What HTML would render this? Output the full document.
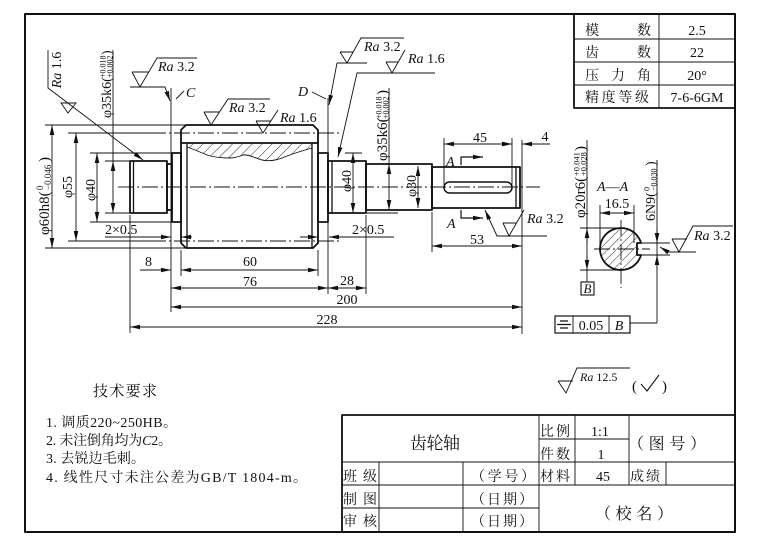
<!DOCTYPE html>
<html><head><meta charset="utf-8">
<style>
html,body{margin:0;padding:0;background:#fff;}
svg{display:block;}
text{font-family:"Liberation Serif","Noto Serif CJK SC",serif;fill:#111;}
.m{text-anchor:middle;}
.i{font-style:italic;}
</style></head><body>
<svg width="765" height="550" viewBox="0 0 765 550" xmlns="http://www.w3.org/2000/svg" font-size="14">
<defs>
<marker id="a" viewBox="0 0 10 6" refX="10" refY="3" markerWidth="10" markerHeight="6" orient="auto-start-reverse" markerUnits="userSpaceOnUse"><path d="M0,0.7 L10,3 L0,5.3Z" fill="#111"/></marker>
<pattern id="h" width="7" height="7" patternUnits="userSpaceOnUse" patternTransform="rotate(45)"><line x1="0" y1="0" x2="0" y2="7" stroke="#111" stroke-width="0.9"/></pattern>
<pattern id="h2" width="6" height="6" patternUnits="userSpaceOnUse" patternTransform="rotate(45)"><line x1="0" y1="0" x2="0" y2="6" stroke="#111" stroke-width="0.9"/></pattern>
</defs>
<rect width="765" height="550" fill="#fff"/>

<!-- hatching -->
<path d="M187,143 H312 V148 C305,150 295,153 287,156 C280,159 272,162 262,160 C255,158 248,154 243,155 C238,157 234,158 230,158 C220,158 213,157 207,155 C200,152 193,149 187,147 Z" fill="url(#h)" stroke="none"/>
<path d="M641.1,243 H637 V255 H641.1 A21,21 0 1,1 641.1,243 Z" fill="url(#h2)" stroke="none"/>

<!-- thick outlines -->
<g fill="none" stroke="#111" stroke-width="1.8" stroke-linejoin="round">
 <rect x="25" y="14" width="710" height="518" stroke-width="2"/>
 <path d="M186,125 H313 L318,130 V243 L313,248 H186 L181,243 V130 Z"/>
 <path d="M181,143 H318"/>
 <rect x="130" y="161" width="37" height="52"/>
 <rect x="167" y="164" width="5" height="46"/>
 <rect x="172" y="153" width="9" height="69"/>
 <rect x="318" y="153" width="10" height="69"/>
 <rect x="328" y="161" width="38" height="52"/>
 <rect x="366" y="164" width="66" height="46"/>
 <rect x="432" y="167" width="88" height="41"/>
 <rect x="444" y="182" width="68" height="11" rx="5.5" stroke-width="1.5"/>
 <path d="M641.1,243 H637 V255 H641.1 A21,21 0 1,1 641.1,243 Z"/>
 <rect x="574" y="14" width="161" height="94"/>
 <rect x="342" y="415" width="393" height="117"/>
</g>
<g fill="none" stroke="#111" stroke-width="1.3">
 <path d="M187,143 V248 M312,143 V248"/>
 <path d="M133.5,161 V213 M332,161 V213 M516,167 V208"/>
</g>

<!-- thin lines -->
<g fill="none" stroke="#111" stroke-width="0.9">
 <path d="M312,148 C305,150 295,153 287,156 C280,159 272,162 262,160 C255,158 248,154 243,155 C238,157 234,158 230,158 C220,158 213,157 207,155 C200,152 193,149 187,147"/>
 <g stroke-dasharray="16 3 2 3">
  <path d="M118,187 H540"/>
  <path d="M150,133 H340 M150,241 H340"/>
  <path d="M621,220 V288 M594,249 H650"/>
 </g>
 <path d="M45,125 H186 M68,133 H150 M90,153 H172 M105,161 H130 M105,213 H130 M90,222 H172 M68,241 H150 M45,248 H186"/>
 <path d="M130,215 V333 M171,88 V312 M181,250 V276 M318,250 V276 M328,98 V294 M366,215 V294 M522,140 V334 M432,212 V252 M444,138 V186 M512,138 V186"/>
 <path d="M345,153 H362 M366,213 H398"/>
 <path d="M600,205 V249 M634,205 V243 M580,228 H622 M580,270 H622 M642,243 H670 M642,255 H670"/>
 <path d="M574,39 H735 M574,62 H735 M574,85 H735 M659,14 V108"/>
 <path d="M342,462 H735 M539,439 H629 M342,485 H735 M342,508 H539 M379,462 V532 M463,462 V532 M539,415 V532 M575,415 V485 M629,415 V485 M666,462 V485"/>
 <path d="M48,50 V88 L143,160" marker-end="url(#a)"/>
 <path d="M61,103 H76 L68,113 Z"/>
 <path d="M132,72 H149 M132,72 L140,87 L157,58 H197"/>
 <path d="M130,87 H165 L170,101" marker-end="url(#a)"/>
 <path d="M176,99 L184,91"/>
 <path d="M204,112 H219 M204,112 L211,125 L228,99 H270"/>
 <path d="M256,121 H271 M256,121 L263,133 L278,110"/>
 <path d="M340,52 H353 M340,52 L347,63 L361,38 H404"/>
 <path d="M337,63 H367"/>
 <path d="M337,63 L329,105" marker-end="url(#a)"/>
 <path d="M312,92 L326,99"/>
 <path d="M386,62 H398 M386,62 L392,73 L405,50"/>
 <path d="M435,73 H357 L338,157" marker-end="url(#a)"/>
 <path d="M547,236 H497 L485,210" marker-end="url(#a)"/>
 <path d="M503,223 H516 M503,223 L509,236 L524,210"/>
 <path d="M665,252 H696"/>
 <path d="M672,239 H687 M672,239 L679,252 L693,226 H733"/>
 <path d="M668,252 L660,247" marker-end="url(#a)"/>
 <path d="M558,381 H573 M558,381 L566,393 L577,368 H630"/>
 <path d="M641,384 L647,391 L659,375" stroke-width="1.1"/>
 <rect x="555" y="316" width="75" height="17" stroke-width="1.2"/>
 <path d="M573,316 V333 M609,316 V333"/>
 <path d="M560,321 H568 M557,324.5 H571 M560,328 H568" stroke-width="1.3"/>
 <path d="M630,323 H657"/>
 <rect x="581" y="282" width="13" height="13" stroke-width="1.1"/>
 <path d="M113,50 V161 M389,88 V164 M587,140 V282 M657,160 V323"/>
</g>

<!-- dimension lines with arrows -->
<g fill="none" stroke="#111" stroke-width="0.9">
 <g marker-start="url(#a)" marker-end="url(#a)">
  <path d="M52,125 V248"/>
  <path d="M76,133 V241"/>
  <path d="M97,153 V222"/>
  <path d="M113,161 V213"/>
  <path d="M353,153 V213"/>
  <path d="M389,164 V210"/>
  <path d="M418,166 V208"/>
  <path d="M444,144 H512"/>
  <path d="M432,246 H522"/>
  <path d="M181,270 H318"/>
  <path d="M171,288 H328"/>
  <path d="M328,288 H366"/>
  <path d="M171,307 H522"/>
  <path d="M130,327 H522"/>
  <path d="M600,213 H634"/>
 </g>
 <g marker-end="url(#a)">
  <path d="M498,144 H512"/>
  <path d="M550,144 H522"/>
  <path d="M140,270 H171"/>
  <path d="M105,237 H171"/>
  <path d="M192,237 H181"/>
  <path d="M300,237 H318"/>
  <path d="M394,237 H329"/>
  <path d="M587,245 V228"/>
  <path d="M587,255 V270"/>
  <path d="M657,228 V243"/>
  <path d="M657,270 V255"/>
 </g>
 <g stroke-width="1.2" marker-end="url(#a)">
  <path d="M461,165 V157 H483"/>
  <path d="M461,210 V218 H483"/>
 </g>
</g>

<!-- rotated dimension texts -->
<g transform="translate(49,193) rotate(-90)">
 <text x="-42" y="0" font-size="15">φ60h8(</text>
 <text x="3" y="-6" font-size="9">0</text>
 <text x="3" y="2" font-size="9">−0.046</text>
 <text x="31" y="0" font-size="15">)</text>
</g>
<g transform="translate(72,187) rotate(-90)"><text class="m" x="0" y="0">φ55</text></g>
<g transform="translate(95,190) rotate(-90)"><text class="m" x="0" y="0">φ40</text></g>
<g transform="translate(111,84) rotate(-90)">
 <text x="-34" y="0">φ35k6(</text>
 <text x="6" y="-5.5" font-size="8">+0.018</text>
 <text x="6" y="1.5" font-size="8">+0.002</text>
 <text x="29" y="0">)</text>
</g>
<g transform="translate(61,70) rotate(-90)"><text class="m" x="0" y="0"><tspan class="i">Ra</tspan> 1.6</text></g>
<g transform="translate(351,181) rotate(-90)"><text class="m" x="0" y="0">φ40</text></g>
<g transform="translate(387,125) rotate(-90)">
 <text x="-36" y="0" font-size="15">φ35k6(</text>
 <text x="6" y="-5.5" font-size="8">+0.018</text>
 <text x="6" y="1.5" font-size="8">+0.002</text>
 <text x="30" y="0" font-size="15">)</text>
</g>
<g transform="translate(416,186) rotate(-90)"><text class="m" x="0" y="0">φ30</text></g>
<g transform="translate(585,181) rotate(-90)">
 <text x="-37" y="0" font-size="15">φ20r6(</text>
 <text x="5" y="-5.5" font-size="8.5">+0.041</text>
 <text x="5" y="1.5" font-size="8.5">+0.028</text>
 <text x="30" y="0" font-size="15">)</text>
</g>
<g transform="translate(655,191) rotate(-90)">
 <text x="-30" y="0">6N9(</text>
 <text x="0" y="-5.5" font-size="8">0</text>
 <text x="0" y="1.5" font-size="8">−0.030</text>
 <text x="25" y="0">)</text>
</g>

<!-- roughness texts -->
<text x="158" y="71"><tspan class="i">Ra</tspan> 3.2</text>
<text x="186" y="97" class="i">C</text>
<text x="229" y="112"><tspan class="i">Ra</tspan> 3.2</text>
<text x="280" y="122"><tspan class="i">Ra</tspan> 1.6</text>
<text x="364" y="51"><tspan class="i">Ra</tspan> 3.2</text>
<text x="408" y="63"><tspan class="i">Ra</tspan> 1.6</text>
<text x="298" y="96" class="i">D</text>
<text x="527" y="223"><tspan class="i">Ra</tspan> 3.2</text>
<text x="694" y="240"><tspan class="i">Ra</tspan> 3.2</text>
<text x="580" y="381" font-size="12"><tspan class="i">Ra</tspan> 12.5</text>
<text x="632" y="391" font-size="15">(</text>
<text x="662" y="391" font-size="15">)</text>

<!-- dimension numbers -->
<text class="m" x="480" y="142">45</text>
<text class="m" x="545" y="141">4</text>
<text class="m" x="477" y="244">53</text>
<text x="446" y="166" class="i">A</text>
<text x="447" y="228" class="i">A</text>
<text x="105" y="234">2×0.5</text>
<text x="352" y="234">2×0.5</text>
<text x="145" y="266">8</text>
<text class="m" x="250" y="266">60</text>
<text class="m" x="250" y="286">76</text>
<text class="m" x="347" y="285">28</text>
<text class="m" x="347" y="304">200</text>
<text class="m" x="327" y="324">228</text>
<text x="597" y="191"><tspan class="i">A</tspan>—<tspan class="i">A</tspan></text>
<text class="m" x="617" y="208">16.5</text>
<text class="m i" x="587.5" y="293" font-size="13">B</text>
<text class="m" x="591" y="330">0.05</text>
<text class="m i" x="619" y="330">B</text>

<!-- top table -->
<text x="585" y="35">模</text><text x="637" y="35">数</text><text class="m" x="697" y="35">2.5</text>
<text x="585" y="57">齿</text><text x="637" y="57">数</text><text class="m" x="697" y="57">22</text>
<text x="585" y="80">压</text><text x="611" y="80">力</text><text x="637" y="80">角</text><text class="m" x="697" y="80">20°</text>
<text x="585" y="102" textLength="64" lengthAdjust="spacing">精度等级</text><text class="m" x="697" y="102">7-6-6GM</text>

<!-- technical requirements -->
<text x="93" y="396" font-size="15" textLength="64" lengthAdjust="spacing">技术要求</text>
<text x="46" y="427" textLength="131" lengthAdjust="spacing">1. 调质220~250HB。</text>
<text x="46" y="445" textLength="126" lengthAdjust="spacing">2. 未注倒角均为<tspan class="i">C</tspan>2。</text>
<text x="46" y="463" textLength="99" lengthAdjust="spacing">3. 去锐边毛刺。</text>
<text x="46" y="482" textLength="261" lengthAdjust="spacing">4. 线性尺寸未注公差为GB/T 1804-m。</text>

<!-- title block -->
<text x="410" y="449" font-size="17" textLength="50" lengthAdjust="spacing">齿轮轴</text>
<text x="540" y="436" textLength="30" lengthAdjust="spacing">比例</text>
<text class="m" x="600" y="436">1:1</text>
<text x="628" y="449" font-size="16" textLength="78" lengthAdjust="spacing">（图号）</text>
<text x="540" y="459" textLength="30" lengthAdjust="spacing">件数</text>
<text class="m" x="601" y="459">1</text>
<text x="343" y="481" textLength="34" lengthAdjust="spacing">班级</text>
<text x="471" y="481" textLength="64" lengthAdjust="spacing">（学号）</text>
<text x="540" y="481" textLength="30" lengthAdjust="spacing">材料</text>
<text class="m" x="603" y="481">45</text>
<text x="630" y="481" textLength="30" lengthAdjust="spacing">成绩</text>
<text x="343" y="504" textLength="34" lengthAdjust="spacing">制图</text>
<text x="471" y="504" textLength="62" lengthAdjust="spacing">（日期）</text>
<text x="595" y="519" font-size="16" textLength="78" lengthAdjust="spacing">（校名）</text>
<text x="343" y="526" textLength="34" lengthAdjust="spacing">审核</text>
<text x="471" y="526" textLength="62" lengthAdjust="spacing">（日期）</text>
</svg>
</body></html>
